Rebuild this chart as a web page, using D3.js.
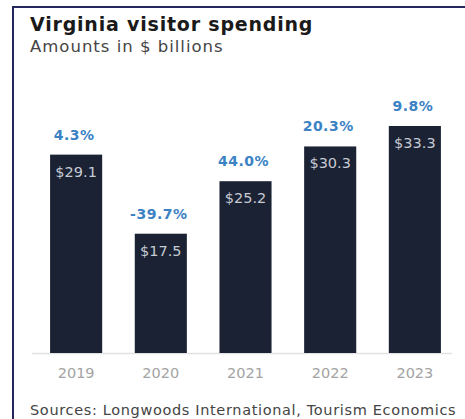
<!DOCTYPE html>
<html>
<head>
<meta charset="utf-8">
<script src="https://cdn.jsdelivr.net/npm/d3@7"></script>
<style>
  html, body { margin: 0; padding: 0; background: #fff; }
  svg { display: block; }
  text { font-family: "DejaVu Sans", "Open Sans", sans-serif; }
</style>
</head>
<body>
<svg id="chart" width="465" height="419"></svg>
<script>
// Virginia visitor spending, $ billions, with year-over-year change
const years = ["2019", "2020", "2021", "2022", "2023"];
const spending = [29.1, 17.5, 25.2, 30.3, 33.3];
const changeLabels = ["4.3%", "-39.7%", "44.0%", "20.3%", "9.8%"];
const valueLabels = ["$29.1", "$17.5", "$25.2", "$30.3", "$33.3"];

const svg = d3.select("#chart");
const W = 465, H = 419;

// frame: top and left rules
svg.append("line").attr("x1", 12).attr("x2", W).attr("y1", 7).attr("y2", 7)
  .attr("stroke", "#26265e").attr("stroke-width", 2);
svg.append("line").attr("x1", 13).attr("x2", 13).attr("y1", 6).attr("y2", H)
  .attr("stroke", "#26265e").attr("stroke-width", 2);

// titles
svg.append("text").attr("x", 30).attr("y", 31)
  .attr("font-size", 19).attr("font-weight", 700).attr("fill", "#1a1a1a")
  .attr("letter-spacing", 0.8)
  .text("Virginia visitor spending");
svg.append("text").attr("x", 30).attr("y", 52)
  .attr("font-size", 16.5).attr("fill", "#444")
  .attr("letter-spacing", 1)
  .text("Amounts in $ billions");

const baseline = 353;
const x = d3.scaleBand().domain(years).range([34, 457]).paddingInner(0.385).paddingOuter(0.19);
const y = d3.scaleLinear().domain([0, 33.3]).range([baseline, 126]);

// axis baseline
svg.append("line").attr("x1", 32).attr("x2", 452).attr("y1", baseline + 0.5).attr("y2", baseline + 0.5)
  .attr("stroke", "#e2e2e2").attr("stroke-width", 1.5);

const g = svg.append("g");
g.selectAll("rect").data(years).join("rect")
  .attr("x", d => x(d))
  .attr("width", x.bandwidth())
  .attr("y", (d, i) => y(spending[i]))
  .attr("height", (d, i) => baseline - y(spending[i]))
  .attr("fill", "#1b2233");

// value labels inside bars
g.selectAll("text.val").data(years).join("text").attr("class", "val")
  .attr("x", d => x(d) + x.bandwidth() / 2)
  .attr("y", (d, i) => y(spending[i]) + 22)
  .attr("text-anchor", "middle").attr("font-size", 14.5).attr("fill", "#c6cad3")
  .attr("font-family", "\"Open Sans\", sans-serif")
  .text((d, i) => valueLabels[i]);

// percentage change labels above bars
g.selectAll("text.chg").data(years).join("text").attr("class", "chg")
  .attr("x", d => x(d) + x.bandwidth() / 2 - 2)
  .attr("y", (d, i) => y(spending[i]) - 15)
  .attr("text-anchor", "middle").attr("font-size", 14).attr("font-weight", 700).attr("fill", "#3b82c4")
  .attr("letter-spacing", 0.5)
  .text((d, i) => changeLabels[i]);

// year axis
const axis = svg.append("g").attr("transform", `translate(0,${baseline})`)
  .call(d3.axisBottom(x).tickSize(0).tickPadding(15));
axis.select(".domain").remove();
axis.selectAll("text").attr("font-size", 14.5).attr("fill", "#a3a3a3")
  .attr("font-family", "\"DejaVu Sans\", sans-serif");

// source note
svg.append("text").attr("x", 30).attr("y", 415)
  .attr("font-size", 14.5).attr("fill", "#444")
  .attr("letter-spacing", 0.65)
  .text("Sources: Longwoods International, Tourism Economics");
</script>
</body>
</html>
